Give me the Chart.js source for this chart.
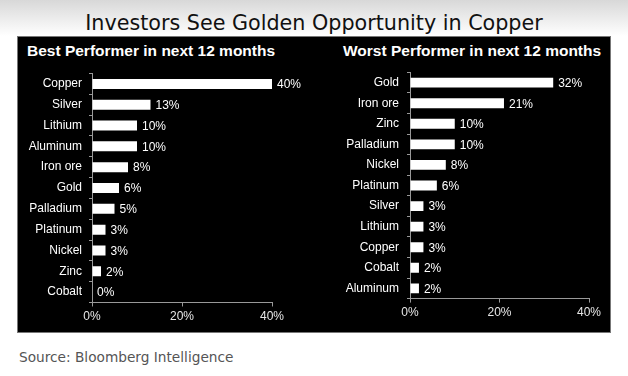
<!DOCTYPE html>
<html>
<head>
<meta charset="utf-8">
<script src="https://cdn.jsdelivr.net/npm/chart.js@4.4.1/dist/chart.umd.min.js"></script>
<style>
    html, body { margin: 0; padding: 0; }
    body { width: 628px; height: 376px; position: relative; overflow: hidden;
           background: linear-gradient(to bottom, #d8d8d8 0px, #ffffff 36px, #ffffff 376px); }
    .title { position: absolute; left: 0; width: 628px; top: 11px; text-align: center; font: 20.7px/25px "DejaVu Sans", sans-serif; color: #111; white-space: nowrap; }
    .panel { position: absolute; left: 18px; top: 37px; width: 592px; height: 295px; background: #000; box-shadow: 0 0 0 1px #777; }
    .sub { position: absolute; top: 42px; font: bold 15.5px/18px "Liberation Sans", Arial, sans-serif; color: #fff; white-space: nowrap; }
    canvas { position: absolute; top: 37px; }
    .source { position: absolute; left: 19px; top: 349px; font: 13.7px/16px "DejaVu Sans", sans-serif; color: #555; white-space: nowrap; }
</style>
</head>
<body>
<div class="title">Investors See Golden Opportunity in Copper</div>
<div class="panel"></div>
<div class="sub" style="left:27px">Best Performer in next 12 months</div>
<div class="sub" style="left:343px">Worst Performer in next 12 months</div>
<canvas id="chartBest" width="296" height="295" style="left:18px"></canvas>
<canvas id="chartWorst" width="296" height="295" style="left:314px"></canvas>
<div class="source">Source: Bloomberg Intelligence</div>

<script>
    const bestLabels = ['Copper', 'Silver', 'Lithium', 'Aluminum', 'Iron ore', 'Gold', 'Palladium', 'Platinum', 'Nickel', 'Zinc', 'Cobalt'];
    const bestValues = [40, 13, 10, 10, 8, 6, 5, 3, 3, 2, 0];
    const worstLabels = ['Gold', 'Iron ore', 'Zinc', 'Palladium', 'Nickel', 'Platinum', 'Silver', 'Lithium', 'Copper', 'Cobalt', 'Aluminum'];
    const worstValues = [32, 21, 10, 10, 8, 6, 3, 3, 3, 2, 2];
    const xTicks = [0, 20, 40];

    Chart.defaults.font.family = '"Liberation Sans", Arial, sans-serif';
    Chart.defaults.font.size = 12;

    // value labels at the end of each bar
    const valueLabels = {
        id: 'valueLabels',
        afterDatasetsDraw(chart) {
            const ctx = chart.ctx;
            const meta = chart.getDatasetMeta(0);
            const vals = chart.data.datasets[0].data;
            ctx.save();
            ctx.font = '12px "Liberation Sans", Arial, sans-serif';
            ctx.fillStyle = '#ffffff';
            ctx.textAlign = 'left';
            ctx.textBaseline = 'middle';
            meta.data.forEach((bar, i) => {
                ctx.fillText(vals[i] + '%', bar.x + 5, bar.y + 1);
            });
            ctx.restore();
        }
    };

    function makeChart(id, labels, values, g) {
        return new Chart(document.getElementById(id), {
            type: 'bar',
            data: {
                labels,
                datasets: [{
                    data: values,
                    backgroundColor: '#ffffff',
                    borderWidth: 0,
                    barPercentage: 0.48,
                    categoryPercentage: 1
                }]
            },
            options: {
                indexAxis: 'y',
                responsive: false,
                animation: false,
                layout: { padding: { top: g.top, right: g.right, left: 0, bottom: 0 } },
                plugins: { legend: { display: false }, tooltip: { enabled: false } },
                scales: {
                    x: {
                        min: 0,
                        max: 40,
                        afterBuildTicks: s => { s.ticks = xTicks.map(v => ({ value: v })); },
                        afterFit: s => { s.height = g.xHeight; },
                        ticks: { color: '#e6e6e6', padding: 3, maxRotation: 0, callback: v => v + '%' },
                        grid: { drawOnChartArea: false, tickLength: 4, color: '#999' },
                        border: { color: '#999' }
                    },
                    y: {
                        afterFit: s => { s.width = g.yWidth; },
                        ticks: { color: '#ffffff', padding: g.labelPad },
                        grid: { drawOnChartArea: false, offset: true, tickLength: 3, color: '#999' },
                        border: { color: '#999' }
                    }
                }
            },
            plugins: [valueLabels]
        });
    }

    makeChart('chartBest', bestLabels, bestValues, { top: 36.5, right: 42, xHeight: 29.5, yWidth: 74, labelPad: 7 });
    makeChart('chartWorst', worstLabels, worstValues, { top: 35.4, right: 21, xHeight: 33.4, yWidth: 96, labelPad: 8 });
</script>
</body>
</html>
